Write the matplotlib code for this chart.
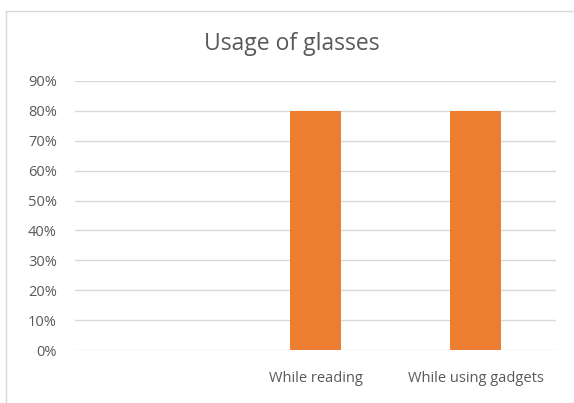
import matplotlib.pyplot as plt
from matplotlib.lines import Line2D
from matplotlib.ticker import PercentFormatter

# Data
categories = ['', 'While reading', 'While using gadgets']
values = [0.0, 0.8, 0.8]
yticks = [0, 0.1, 0.2, 0.3, 0.4, 0.5, 0.6, 0.7, 0.8, 0.9]

plt.rcParams['font.family'] = ['Open Sans', 'DejaVu Sans']

fig = plt.figure(figsize=(5.74, 4.03), dpi=100)
ax = fig.add_axes([75 / 574, 1 - 350 / 403, 481 / 574, 269 / 403])

ax.bar(range(len(categories)), values, width=0.32, color='#ED7D31', linewidth=0, zorder=3)

ax.set_xlim(-0.5, len(categories) - 0.5)
ax.set_ylim(0, 0.9)
ax.set_yticks(yticks)
ax.yaxis.set_major_formatter(PercentFormatter(1.0, decimals=0))
ax.set_xticks(range(len(categories)))
ax.set_xticklabels(categories)

ax.grid(axis='y', color='#D9D9D9', linewidth=1, zorder=0)
for s in ax.spines.values():
    s.set_visible(False)
ax.tick_params(length=0, labelsize=10.5, labelcolor='#595959')
ax.tick_params(axis='y', pad=13)
ax.tick_params(axis='x', pad=15)

fig.text(292 / 574, 1 - 44 / 403, 'Usage of glasses',
         ha='center', va='center', fontsize=16.5, color='#595959')

# chart frame
fig.add_artist(Line2D([6 / 574, 6 / 574], [0, 1 - 11 / 403], transform=fig.transFigure,
                      color='#D9D9D9', linewidth=1))
fig.add_artist(Line2D([6 / 574, 1], [1 - 11 / 403, 1 - 11 / 403], transform=fig.transFigure,
                      color='#D9D9D9', linewidth=1))

fig.savefig('out.png', dpi=100)
